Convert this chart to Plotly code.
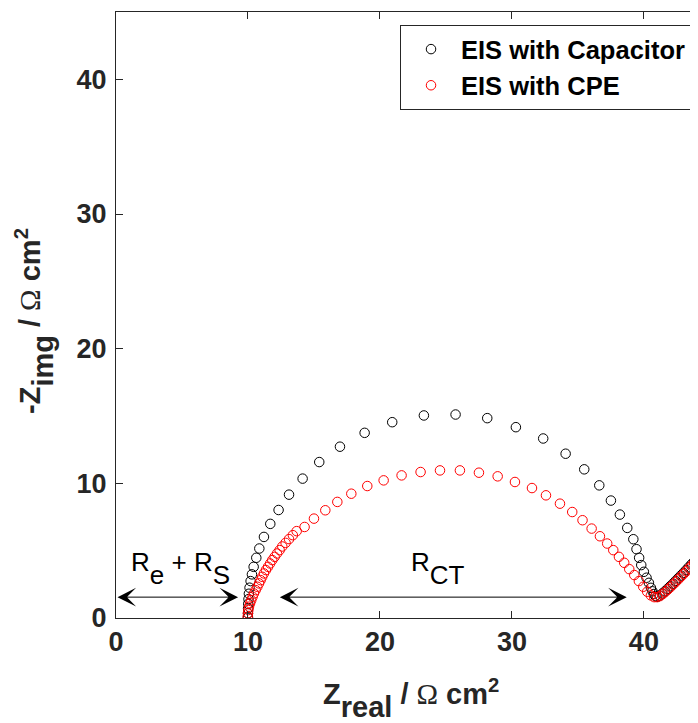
import plotly.graph_objects as go

# ---- data ----
cap_x = [10.0, 10.0, 10.01, 10.02, 10.04, 10.07, 10.12, 10.2, 10.3, 10.43, 10.63, 10.86,
         11.21, 11.69, 12.32, 13.11, 14.14, 15.40, 16.97, 18.84, 20.93, 23.33, 25.73,
         28.13, 30.30, 32.37, 34.07, 35.48, 36.62, 37.50, 38.18, 38.74, 39.20, 39.44,
         39.64, 39.80, 40.00, 40.20, 40.38, 40.53, 40.65, 40.76, 40.88, 41.0, 41.2, 41.4,
         41.6, 41.8, 42.0, 42.2, 42.4, 42.6, 42.8, 43.0, 43.2, 43.4, 43.6, 43.8, 44.0, 44.2]
cap_y = [0.05, 0.35, 0.7, 1.05, 1.4, 1.8, 2.25, 2.74, 3.24, 3.80, 4.47, 5.16,
         6.02, 6.99, 8.02, 9.16, 10.35, 11.58, 12.72, 13.75, 14.54, 15.04, 15.11,
         14.84, 14.17, 13.33, 12.20, 11.04, 9.85, 8.72, 7.68, 6.69, 5.85, 5.11,
         4.47, 3.93, 3.43, 2.99, 2.61, 2.24, 1.98, 1.78, 1.63, 1.57, 1.66, 1.82,
         1.99, 2.17, 2.36, 2.55, 2.75, 2.95, 3.15, 3.35, 3.56, 3.77, 3.98, 4.19, 4.40, 4.61]

cpe_x = [9.98, 10.0, 10.03, 10.08, 10.16, 10.25, 10.35, 10.45, 10.58, 10.71, 10.84, 10.96,
         11.08, 11.21, 11.36, 11.52, 11.68, 11.84, 12.02, 12.20, 12.40, 12.60, 12.85, 13.11,
         13.40, 13.69, 14.29, 15.00, 15.86, 16.77, 17.83, 19.04, 20.28, 21.64, 23.08, 24.55,
         26.06, 27.50, 28.92, 30.23, 31.52, 32.58, 33.64, 34.57, 35.35, 36.04, 36.67, 37.22,
         37.68, 38.11, 38.51, 38.89, 39.27, 39.62, 39.95, 40.25, 40.53, 40.78, 41.0, 41.2,
         41.4, 41.6, 41.8, 42.0, 42.2, 42.4, 42.6, 42.8, 43.0, 43.2, 43.4, 43.6, 43.8, 44.0,
         44.2]
cpe_y = [0.1, 0.35, 0.59, 0.84, 1.09, 1.33, 1.58, 1.82, 2.07, 2.32, 2.57, 2.81,
         3.06, 3.31, 3.56, 3.80, 4.05, 4.30, 4.54, 4.79, 5.04, 5.31, 5.58, 5.86,
         6.15, 6.45, 6.76, 7.38, 8.00, 8.62, 9.23, 9.80, 10.22, 10.59, 10.84, 10.96,
         10.96, 10.79, 10.52, 10.10, 9.65, 9.11, 8.49, 7.87, 7.26, 6.64, 6.07, 5.53,
         5.04, 4.54, 4.10, 3.63, 3.19, 2.74, 2.32, 1.95, 1.68, 1.55, 1.55, 1.62,
         1.76, 1.92, 2.10, 2.28, 2.47, 2.66, 2.86, 3.06, 3.26, 3.46, 3.66, 3.87, 4.08, 4.29,
         4.50]

x_ticks = [0, 10, 20, 30, 40]
y_ticks = [0, 10, 20, 30, 40]
series_names = ["EIS with Capacitor", "EIS with CPE"]

AXC = "#262626"
FONT = "Liberation Sans, Arial, sans-serif"


def low(s, shift="-0.45em"):
    # full-size subscript, lowered below the baseline
    return "<span style='baseline-shift:%s'>%s</span>" % (shift, s)


fig = go.Figure()
fig.add_trace(go.Scatter(x=cap_x, y=cap_y, mode="markers", name=series_names[0],
                         marker=dict(symbol="circle-open", size=9.5, color="black",
                                     line=dict(width=1))))
fig.add_trace(go.Scatter(x=cpe_x, y=cpe_y, mode="markers", name=series_names[1],
                         marker=dict(symbol="circle-open", size=9.5, color="red",
                                     line=dict(width=1))))

axis_common = dict(showline=True, linecolor=AXC, linewidth=1, mirror="ticks",
                   ticks="inside", ticklen=7, tickcolor=AXC, tickwidth=1,
                   showgrid=False, zeroline=False,
                   tickfont=dict(family=FONT, size=27, color=AXC, weight="bold"))

fig.update_xaxes(range=[0, 44.1], tickvals=x_ticks, ticklabelstandoff=0, **axis_common)
fig.update_yaxes(range=[0, 45], tickvals=y_ticks, ticklabelstandoff=3, **axis_common)

# arrows
arrow_y = 1.55
for x0, x1 in [(0, 9.25), (12.3, 38.7)]:
    fig.add_annotation(x=x1, y=arrow_y, ax=x0, ay=arrow_y, xref="x", yref="y",
                       axref="x", ayref="y", text="", showarrow=True,
                       arrowhead=3, startarrowhead=3, arrowside="end+start",
                       arrowsize=3.1, startarrowsize=3.1, arrowwidth=1, arrowcolor="black")

AS = 26
fig.add_annotation(x=4.85, y=3.7, xref="x", yref="y", showarrow=False,
                   text="R" + low("e", "-0.5em") + " + R" + low("S", "-0.5em"),
                   font=dict(family=FONT, size=AS, color="black"))
fig.add_annotation(x=24.4, y=3.7, xref="x", yref="y", showarrow=False,
                   text="R" + low("CT", "-0.5em"),
                   font=dict(family=FONT, size=AS, color="black"))

# axis titles
TS = 29
omega = "<span style='font-family:Liberation Serif'>Ω</span>"
fig.add_annotation(x=-0.141, y=0.49, xref="paper", yref="paper", showarrow=False,
                   xanchor="center", yanchor="middle", textangle=-90,
                   text="<b>-Z" + low("img") + " / </b>" + omega + "<b> cm<sup>2</sup></b>",
                   font=dict(family=FONT, size=TS, color=AXC))
fig.add_annotation(x=0.507, y=-0.133, xref="paper", yref="paper", showarrow=False,
                   xanchor="center", yanchor="middle",
                   text="<b>Z" + low("real") + " / </b>" + omega + "<b> cm<sup>2</sup></b>",
                   font=dict(family=FONT, size=TS, color=AXC))

fig.update_layout(
    width=690, height=715,
    margin=dict(l=108, r=0, t=4, b=105),
    plot_bgcolor="white", paper_bgcolor="white",
    showlegend=True,
    legend=dict(x=0.488, y=0.9785, xanchor="left", yanchor="top",
                bordercolor=AXC, borderwidth=1, bgcolor="white",
                font=dict(family=FONT, size=25.5, color="black", weight="bold"),
                tracegroupgap=0, itemwidth=50),
)

fig.write_html("out.html")
